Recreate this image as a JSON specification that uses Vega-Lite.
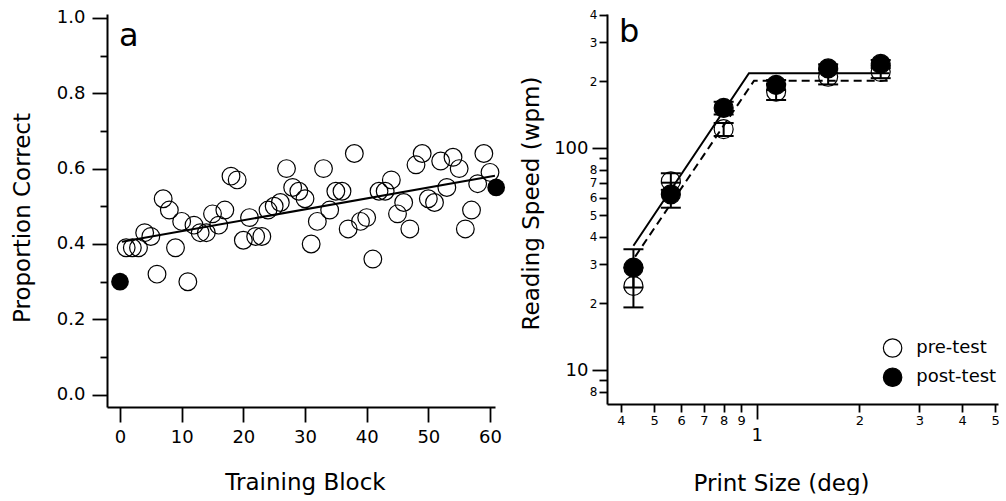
{
  "$schema": "https://vega.github.io/schema/vega-lite/v6.json",
  "padding": {"left": 11, "top": 8, "right": 0, "bottom": 0},
  "background": "white",
  "config": {
    "view": {"stroke": null},
    "font": "DejaVu Sans",
    "title": {
      "anchor": "start",
      "frame": "group",
      "orient": "top",
      "offset": 0,
      "fontSize": 32,
      "fontWeight": "normal",
      "font": "DejaVu Sans",
      "color": "black",
      "baseline": "alphabetic"
    },
    "axis": {
      "grid": false,
      "domainColor": "black",
      "domainWidth": 2,
      "tickColor": "black",
      "tickWidth": 1.8,
      "labelColor": "black",
      "titleColor": "black",
      "labelFont": "DejaVu Sans",
      "titleFont": "DejaVu Sans",
      "titleFontWeight": "normal",
      "titleFontSize": 23,
      "labelFlush": false,
      "labelOverlap": false,
      "labelBound": false
    }
  },
  "datasets": {
    "blocks": [
      {"block": 1, "prop": 0.39}, {"block": 2, "prop": 0.39}, {"block": 3, "prop": 0.39},
      {"block": 4, "prop": 0.43}, {"block": 5, "prop": 0.42}, {"block": 6, "prop": 0.32},
      {"block": 7, "prop": 0.52}, {"block": 8, "prop": 0.49}, {"block": 9, "prop": 0.39},
      {"block": 10, "prop": 0.46}, {"block": 11, "prop": 0.30}, {"block": 12, "prop": 0.45},
      {"block": 13, "prop": 0.43}, {"block": 14, "prop": 0.43}, {"block": 15, "prop": 0.48},
      {"block": 16, "prop": 0.45}, {"block": 17, "prop": 0.49}, {"block": 18, "prop": 0.58},
      {"block": 19, "prop": 0.57}, {"block": 20, "prop": 0.41}, {"block": 21, "prop": 0.47},
      {"block": 22, "prop": 0.42}, {"block": 23, "prop": 0.42}, {"block": 24, "prop": 0.49},
      {"block": 25, "prop": 0.50}, {"block": 26, "prop": 0.51}, {"block": 27, "prop": 0.60},
      {"block": 28, "prop": 0.55}, {"block": 29, "prop": 0.54}, {"block": 30, "prop": 0.52},
      {"block": 31, "prop": 0.40}, {"block": 32, "prop": 0.46}, {"block": 33, "prop": 0.60},
      {"block": 34, "prop": 0.49}, {"block": 35, "prop": 0.54}, {"block": 36, "prop": 0.54},
      {"block": 37, "prop": 0.44}, {"block": 38, "prop": 0.64}, {"block": 39, "prop": 0.46},
      {"block": 40, "prop": 0.47}, {"block": 41, "prop": 0.36}, {"block": 42, "prop": 0.54},
      {"block": 43, "prop": 0.54}, {"block": 44, "prop": 0.57}, {"block": 45, "prop": 0.48},
      {"block": 46, "prop": 0.51}, {"block": 47, "prop": 0.44}, {"block": 48, "prop": 0.61},
      {"block": 49, "prop": 0.64}, {"block": 50, "prop": 0.52}, {"block": 51, "prop": 0.51},
      {"block": 52, "prop": 0.62}, {"block": 53, "prop": 0.55}, {"block": 54, "prop": 0.63},
      {"block": 55, "prop": 0.60}, {"block": 56, "prop": 0.44}, {"block": 57, "prop": 0.49},
      {"block": 58, "prop": 0.56}, {"block": 59, "prop": 0.64}, {"block": 60, "prop": 0.59}
    ],
    "tests": [
      {"block": 0, "prop": 0.30, "test": "pre-test"},
      {"block": 61, "prop": 0.55, "test": "post-test"}
    ],
    "trend": [
      {"block": 0.3, "prop": 0.406},
      {"block": 60.8, "prop": 0.581}
    ],
    "speed": [
      {"size": 0.435, "wpm": 24, "lo": 19.2, "hi": 29, "test": "pre-test"},
      {"size": 0.56, "wpm": 71, "lo": 65, "hi": 77.2, "test": "pre-test"},
      {"size": 0.80, "wpm": 122, "lo": 113.6, "hi": 130, "test": "pre-test"},
      {"size": 1.14, "wpm": 180, "lo": 165, "hi": 195, "test": "pre-test"},
      {"size": 1.62, "wpm": 210, "lo": 194, "hi": 226, "test": "pre-test"},
      {"size": 2.31, "wpm": 221, "lo": 207, "hi": 235, "test": "pre-test"},
      {"size": 0.435, "wpm": 29, "lo": 23.6, "hi": 35.1, "test": "post-test"},
      {"size": 0.56, "wpm": 62, "lo": 54, "hi": 70, "test": "post-test"},
      {"size": 0.80, "wpm": 152, "lo": 142, "hi": 162, "test": "post-test"},
      {"size": 1.14, "wpm": 193, "lo": 183, "hi": 203, "test": "post-test"},
      {"size": 1.62, "wpm": 229, "lo": 219, "hi": 239, "test": "post-test"},
      {"size": 2.31, "wpm": 240, "lo": 230, "hi": 250, "test": "post-test"}
    ],
    "fitPost": [
      {"size": 0.435, "wpm": 36.4},
      {"size": 0.949, "wpm": 217.7},
      {"size": 2.45, "wpm": 217.7}
    ],
    "fitPre": [
      {"size": 0.44, "wpm": 32.5},
      {"size": 0.982, "wpm": 201.6},
      {"size": 2.45, "wpm": 201.6}
    ]
  },
  "hconcat": [
    {
      "width": 388,
      "height": 393,
      "title": {"text": "a", "dx": 12, "dy": 48},
      "encoding": {
        "x": {
          "field": "block",
          "type": "quantitative",
          "scale": {"domain": [-2.108, 60.81], "nice": false, "zero": false},
          "axis": {
            "title": "Training Block",
            "values": [0, 10, 20, 30, 40, 50, 60],
            "tickSize": 15,
            "labelFontSize": 18,
            "labelPadding": 6,
            "titleX": 198,
            "titleY": 82,
            "titleAlign": "center",
            "titleBaseline": "alphabetic"
          }
        },
        "y": {
          "field": "prop",
          "type": "quantitative",
          "scale": {"domain": [-0.0324, 1.0101], "nice": false, "zero": false},
          "axis": {
            "title": "Proportion Correct",
            "values": [0, 0.1, 0.2, 0.3, 0.4, 0.5, 0.6, 0.7, 0.8, 0.9, 1.0],
            "labelExpr": "round(datum.value * 10) % 2 === 0 ? format(datum.value, '.1f') : ''",
            "tickSize": {"condition": {"test": "round(datum.value * 10) % 2 === 0", "value": 15}, "value": 7},
            "labelPadding": {"condition": {"test": "round(datum.value * 10) % 2 === 0", "value": 7}, "value": 15},
            "labelFontSize": 18,
            "titleX": -77.5,
            "titleY": 203.5,
            "titleAlign": "center",
            "titleBaseline": "alphabetic"
          }
        }
      },
      "layer": [
        {
          "data": {"name": "trend"},
          "mark": {"type": "line", "color": "black", "strokeWidth": 2, "clip": false}
        },
        {
          "data": {"name": "blocks"},
          "mark": {"type": "point", "shape": "circle", "filled": false, "size": 314, "color": "black", "strokeWidth": 1.2, "opacity": 1, "clip": false}
        },
        {
          "data": {"name": "tests"},
          "mark": {"type": "circle", "size": 314, "color": "black", "opacity": 1, "clip": false}
        }
      ]
    },
    {
      "width": 391,
      "height": 390,
      "title": {"text": "b", "dx": 12, "dy": 44},
      "encoding": {
        "x": {
          "field": "size",
          "type": "quantitative",
          "scale": {"type": "log", "domain": [0.3639, 5.1], "nice": false},
          "axis": {
            "title": "Print Size (deg)",
            "values": [0.4, 0.5, 0.6, 0.7, 0.8, 0.9, 1, 2, 3, 4, 5],
            "labelExpr": "datum.value < 1 ? format(datum.value * 10, 'd') : format(datum.value, 'd')",
            "tickSize": {"condition": {"test": "datum.value === 1", "value": 15}, "value": 8},
            "labelFontSize": {"condition": {"test": "datum.value === 1", "value": 18}, "value": 13},
            "labelPadding": {"condition": {"test": "datum.value === 1", "value": 7}, "value": 2},
            "titleX": 174,
            "titleY": 86,
            "titleAlign": "center",
            "titleBaseline": "alphabetic"
          }
        },
        "y": {
          "field": "wpm",
          "type": "quantitative",
          "scale": {"type": "log", "domain": [7.05, 402.7], "nice": false},
          "axis": {
            "title": "Reading Speed (wpm)",
            "values": [8, 9, 10, 20, 30, 40, 50, 60, 70, 80, 90, 100, 200, 300, 400],
            "labelExpr": "datum.value === 9 || datum.value === 90 ? '' : (datum.value === 10 || datum.value === 100) ? format(datum.value, 'd') : format(datum.value >= 100 ? datum.value / 100 : datum.value >= 10 ? datum.value / 10 : datum.value, 'd')",
            "tickSize": {"condition": {"test": "datum.value === 10 || datum.value === 100", "value": 15}, "value": 8},
            "labelFontSize": {"condition": {"test": "datum.value === 10 || datum.value === 100", "value": 18}, "value": 12},
            "labelPadding": {"condition": {"test": "datum.value === 10 || datum.value === 100", "value": 4}, "value": 2},
            "titleX": -69,
            "titleY": 189,
            "titleAlign": "center",
            "titleBaseline": "alphabetic"
          }
        }
      },
      "layer": [
        {
          "data": {"name": "fitPost"},
          "mark": {"type": "line", "color": "black", "strokeWidth": 2, "clip": false}
        },
        {
          "data": {"name": "fitPre"},
          "mark": {"type": "line", "color": "black", "strokeWidth": 2, "strokeDash": [8, 5], "clip": false}
        },
        {
          "data": {"name": "speed"},
          "mark": {"type": "circle", "size": 360, "stroke": "black", "strokeWidth": 1.2, "opacity": 1, "clip": false},
          "encoding": {
            "fill": {
              "field": "test",
              "type": "nominal",
              "scale": {"domain": ["pre-test", "post-test"], "range": ["transparent", "black"]},
              "legend": {
                "title": null,
                "orient": "none",
                "legendX": 775.6,
                "legendY": 324,
                "padding": 0,
                "symbolType": "circle",
                "symbolSize": 340,
                "symbolStrokeColor": "black",
                "symbolStrokeWidth": 1.2,
                "labelFontSize": 18,
                "labelFont": "DejaVu Sans",
                "labelColor": "black",
                "labelOffset": 13.6,
                "rowPadding": 5.2
              }
            }
          }
        },
        {
          "data": {"name": "speed"},
          "mark": {"type": "rule", "color": "black", "strokeWidth": 2, "clip": false},
          "encoding": {
            "y": {"field": "lo", "type": "quantitative"},
            "y2": {"field": "hi"}
          }
        },
        {
          "data": {"name": "speed"},
          "mark": {"type": "tick", "orient": "horizontal", "size": 20, "thickness": 2, "color": "black", "opacity": 1, "clip": false},
          "encoding": {"y": {"field": "lo", "type": "quantitative"}}
        },
        {
          "data": {"name": "speed"},
          "mark": {"type": "tick", "orient": "horizontal", "size": 20, "thickness": 2, "color": "black", "opacity": 1, "clip": false},
          "encoding": {"y": {"field": "hi", "type": "quantitative"}}
        }
      ]
    }
  ],
  "spacing": 112,
  "bounds": "flush"
}
